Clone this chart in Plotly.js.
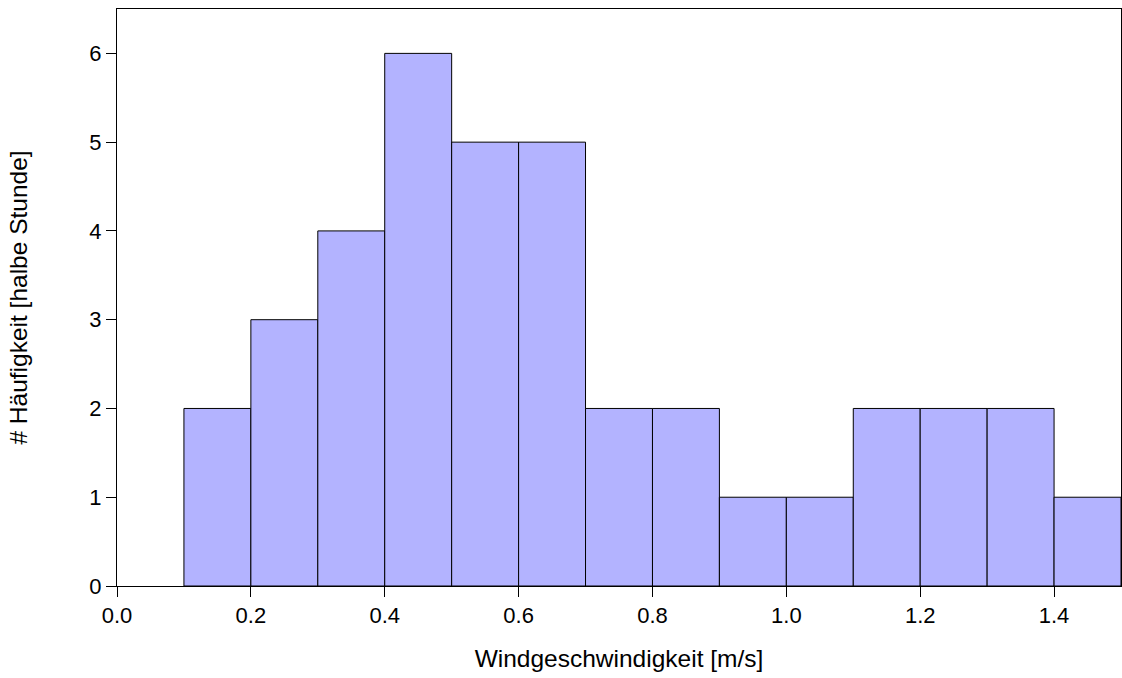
<!DOCTYPE html>
<html>
<head>
<meta charset="utf-8">
<script src="https://cdn.plot.ly/plotly-3.0.1.min.js"></script>
<style>html,body{margin:0;padding:0;background:#fff;}#chart{width:1122px;height:678px;}</style>
</head>
<body>
<div id="chart"></div>
<script>
var binCenters = [0.15, 0.25, 0.35, 0.45, 0.55, 0.65, 0.75, 0.85, 0.95, 1.05, 1.15, 1.25, 1.35, 1.45];
var counts = [2, 3, 4, 6, 5, 5, 2, 2, 1, 1, 2, 2, 2, 1];
var xTickVals = [0.0, 0.2, 0.4, 0.6, 0.8, 1.0, 1.2, 1.4];
var xTickText = ["0.0", "0.2", "0.4", "0.6", "0.8", "1.0", "1.2", "1.4"];
var yTickVals = [0, 1, 2, 3, 4, 5, 6];
var xTitle = "Windgeschwindigkeit [m/s]";
var yTitle = "# Häufigkeit [halbe Stunde]";

var trace = {
  type: 'bar',
  x: binCenters,
  y: counts,
  width: 0.1,
  marker: {color: '#b3b3ff', line: {color: '#000', width: 1}},
  hoverinfo: 'x+y'
};

var tickFont = {family: 'Liberation Sans, Arial, sans-serif', size: 22, color: '#000'};
var titleFont = {family: 'Liberation Sans, Arial, sans-serif', size: 24.5, color: '#000'};

var layout = {
  width: 1122, height: 678,
  margin: {l: 117, r: 1, t: 9, b: 92},
  paper_bgcolor: '#fff', plot_bgcolor: '#fff',
  font: tickFont,
  showlegend: false,
  bargap: 0,
  xaxis: {
    range: [0, 1.5],
    tickvals: xTickVals, ticktext: xTickText,
    ticks: 'outside', ticklen: 10, tickwidth: 1, tickcolor: '#000',
    showgrid: false, zeroline: false,
    showline: true, linecolor: '#000', linewidth: 1, mirror: true,
    tickfont: tickFont,
    title: {text: xTitle, font: titleFont, standoff: 22}
  },
  yaxis: {
    range: [0, 6.5],
    tickvals: yTickVals,
    ticks: 'outside', ticklen: 10, tickwidth: 1, tickcolor: '#000',
    showgrid: false, zeroline: false,
    showline: true, linecolor: '#000', linewidth: 1, mirror: true,
    tickfont: tickFont,
    title: {text: yTitle, font: titleFont, standoff: 54}
  }
};

Plotly.newPlot('chart', [trace], layout, {displayModeBar: false, staticPlot: true});
</script>
</body>
</html>
